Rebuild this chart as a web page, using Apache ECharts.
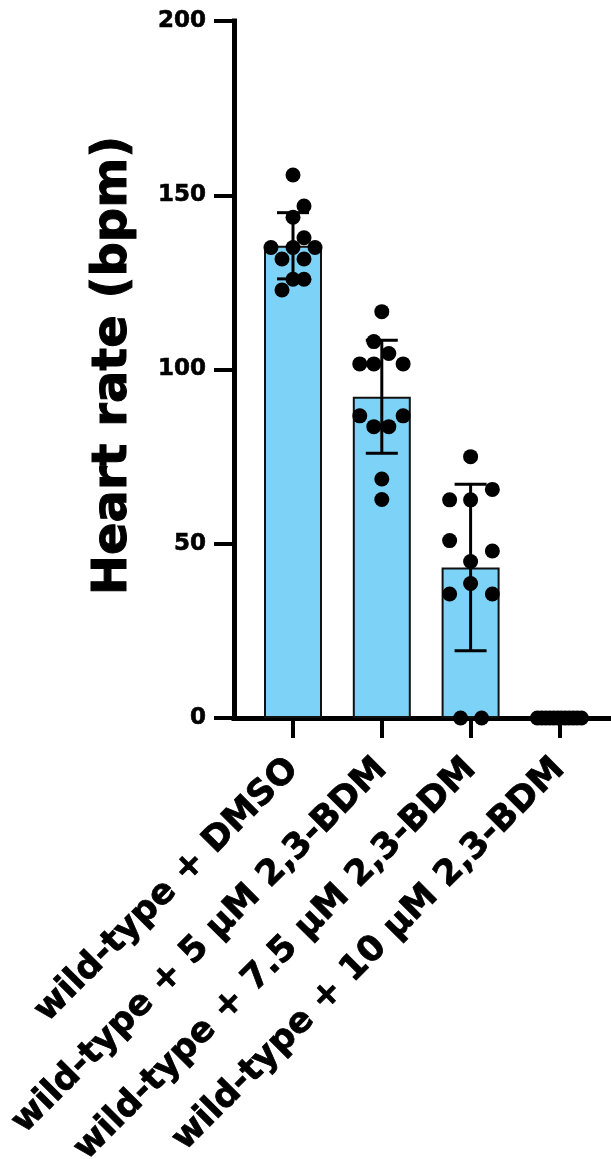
<!DOCTYPE html>
<html>
<head>
<meta charset="utf-8">
<script src="https://cdn.jsdelivr.net/npm/echarts@6/dist/echarts.min.js"></script>
<style>
  html, body { margin: 0; padding: 0; background: #fff; }
  #chart { width: 611px; height: 1159px; }
</style>
</head>
<body>
<div id="chart"></div>
<script>
// groups
var groups = ['wild-type + DMSO', 'wild-type + 5 μM 2,3-BDM', 'wild-type + 7.5 μM 2,3-BDM', 'wild-type + 10 μM 2,3-BDM'];
// bar = mean, error = SD
var means = [135.5, 92.2, 43.2, 0];
var sds = [9.5, 16.2, 23.9, 0];
var yTicks = [0, 50, 100, 150, 200];

// individual points per group
var pts1 = [155.8, 146.9, 143.7, 137.8, 135.0, 135.0, 135.0, 131.7, 131.7, 125.9, 125.9, 122.8];
var pts2 = [116.6, 108.0, 104.6, 101.6, 101.6, 101.6, 86.7, 86.7, 83.6, 83.6, 68.6, 62.7];
var pts3 = [75.0, 65.6, 62.6, 62.6, 50.9, 47.9, 44.9, 38.6, 35.6, 35.6, 0, 0];
var pts4 = [0, 0, 0, 0, 0, 0, 0, 0, 0, 0, 0, 0];
// horizontal scatter of the points, in fractions of a category width
var jit1 = [0, 0.124, 0, 0.124, -0.248, 0, 0.248, -0.124, 0.124, 0, 0.124, -0.124];
var jit2 = [0, -0.09, 0.079, -0.248, -0.09, 0.24, -0.248, 0.24, -0.09, 0.079, 0, 0];
var jit3 = [0, 0.245, -0.236, 0, -0.236, 0.245, 0, 0, -0.236, 0.245, -0.113, 0.124];
var jit4 = [-0.248, -0.2, -0.155, -0.11, -0.065, -0.02, 0.02, 0.065, 0.11, 0.155, 0.2, 0.248];

var allPts = [pts1, pts2, pts3, pts4];
var allJit = [jit1, jit2, jit3, jit4];
var dots = [];
for (var g = 0; g < allPts.length; g++) {
  for (var k = 0; k < allPts[g].length; k++) {
    dots.push([g + allJit[g][k], allPts[g][k]]);
  }
}

var font = 'DejaVu Sans';
var chart = echarts.init(document.getElementById('chart'), null, { renderer: 'canvas' });

chart.setOption({
  animation: false,
  backgroundColor: '#fff',
  grid: [
    // axes frame
    { left: 234, right: 0, top: 21, bottom: 441, containLabel: false, outerBoundsMode: 'none' },
    // data area (categories centred under the bars)
    { left: 248.6, right: 7.2, top: 21, bottom: 441, containLabel: false, outerBoundsMode: 'none' }
  ],
  xAxis: [
    {
      gridIndex: 0, type: 'value', min: 0, max: 1,
      axisLine: { show: true, lineStyle: { color: '#000', width: 5, cap: 'square' } },
      axisTick: { show: false }, axisLabel: { show: false }, splitLine: { show: false }
    },
    {
      gridIndex: 1, type: 'category', data: groups,
      axisLine: { show: false },
      axisTick: { show: true, alignWithLabel: true, length: 20, lineStyle: { color: '#000', width: 4 } },
      axisLabel: {
        rotate: 45, interval: 0, margin: 46,
        color: '#000', fontFamily: font, fontWeight: 'bold', fontSize: 35,
        textBorderColor: '#000', textBorderWidth: 0.8
      },
      splitLine: { show: false }
    },
    {
      gridIndex: 1, type: 'value', min: -0.5, max: 3.5, show: false
    }
  ],
  yAxis: [
    {
      gridIndex: 0, type: 'value', min: 0, max: 200, interval: 50,
      name: 'Heart rate (bpm)', nameLocation: 'middle', nameGap: 96,
      nameTextStyle: {
        color: '#000', fontFamily: font, fontWeight: 'bold', fontSize: 48,
        textBorderColor: '#000', textBorderWidth: 1, padding: [0, 0, 0, 8]
      },
      axisLine: { show: true, lineStyle: { color: '#000', width: 5, cap: 'square' } },
      axisTick: { show: true, length: 20, lineStyle: { color: '#000', width: 4 } },
      axisLabel: {
        margin: 28, color: '#000', fontFamily: font, fontWeight: 'bold', fontSize: 23,
        textBorderColor: '#000', textBorderWidth: 0.6,
        formatter: function (v) { return yTicks.indexOf(v) >= 0 ? String(v) : ''; }
      },
      splitLine: { show: false }
    },
    { gridIndex: 1, type: 'value', min: 0, max: 200, interval: 50, show: false }
  ],
  series: [
    {
      type: 'bar', xAxisIndex: 1, yAxisIndex: 1,
      data: means, barWidth: 58, z: 2,
      itemStyle: { color: '#7dd3f7', borderColor: '#111', borderWidth: 2 }
    },
    {
      type: 'custom', xAxisIndex: 1, yAxisIndex: 1, z: 3,
      data: means.map(function (m, i) { return [i, m - sds[i], m + sds[i]]; }),
      renderItem: function (params, api) {
        if (api.value(2) - api.value(1) <= 0) return null;
        var lo = api.coord([api.value(0), api.value(1)]);
        var hi = api.coord([api.value(0), api.value(2)]);
        var w = 16;
        var st = { stroke: '#000', lineWidth: 3, fill: null };
        return {
          type: 'group',
          children: [
            { type: 'line', shape: { x1: hi[0], y1: hi[1], x2: lo[0], y2: lo[1] }, style: st },
            { type: 'line', shape: { x1: hi[0] - w, y1: hi[1], x2: hi[0] + w, y2: hi[1] }, style: st },
            { type: 'line', shape: { x1: lo[0] - w, y1: lo[1], x2: lo[0] + w, y2: lo[1] }, style: st }
          ]
        };
      }
    },
    {
      type: 'scatter', xAxisIndex: 2, yAxisIndex: 1, z: 5,
      data: dots, symbol: 'circle', symbolSize: 15,
      itemStyle: { color: '#000', opacity: 1 }
    }
  ]
});
</script>
</body>
</html>
